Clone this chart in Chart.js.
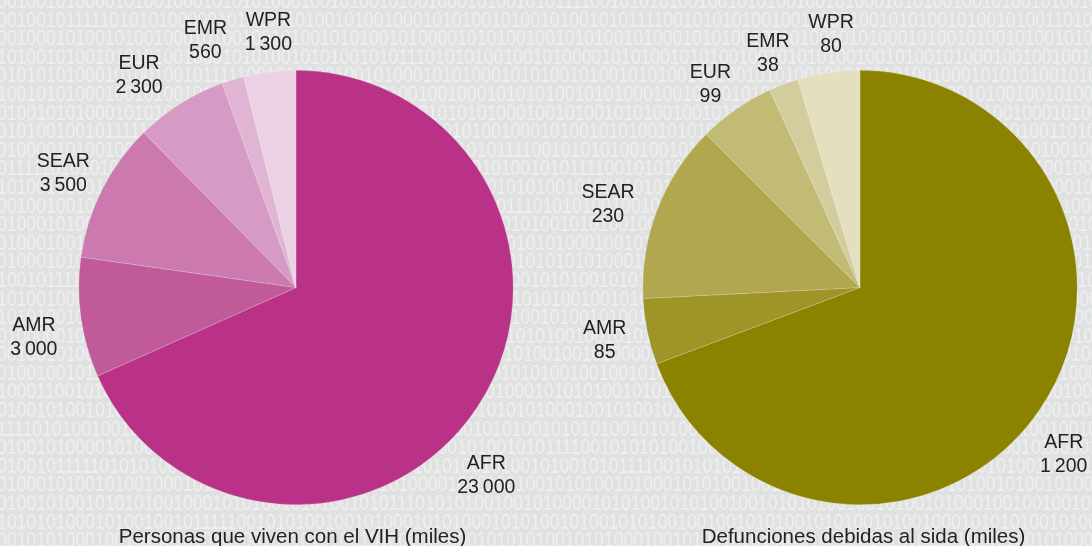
<!DOCTYPE html>
<html><head><meta charset="utf-8">
<script src="https://cdn.jsdelivr.net/npm/chart.js@4/dist/chart.umd.min.js"></script>
<style>
html,body{margin:0;padding:0;background:#e1e2e2;}
#wrap{position:relative;width:1092px;height:546px;overflow:hidden;background:#e0e1e1;}
#bin{position:absolute;left:-3px;top:-8px;font:22px "Liberation Sans",Arial,sans-serif;line-height:18.6px;color:#eeefef;white-space:pre;transform:scaleX(0.8);transform-origin:0 0;}
canvas{position:absolute;left:0;top:0;}
</style></head><body>
<div id="wrap"><div id="bin"></div><canvas id="c1" width="1092" height="546"></canvas><canvas id="c2" width="1092" height="546"></canvas></div>
<script>
// ---- data ----
const regions = ['AFR', 'AMR', 'SEAR', 'EUR', 'EMR', 'WPR'];
const hivValues = [23000, 3000, 3500, 2300, 560, 1300];          // Personas que viven con el VIH (miles)
const aidsDeathValues = [1200, 85, 230, 99, 38, 80];            // Defunciones debidas al sida (miles)
const chartTitles = ['Personas que viven con el VIH (miles)', 'Defunciones debidas al sida (miles)'];

// ---- style ----
const hivColors = ['#b93287', '#c15a98', '#cb79ae', '#d69ac4', '#dfb5d3', '#ecd1e5'];
const deathColors = ['#8b8200', '#9e9428', '#b0a74e', '#c2bb75', '#d3cd9d', '#e3dfbf'];
// label placement tweaks: [angle offset in degrees, radius factor]
const hivLabelPos = [[11.5, 1.228], [-2.6, 1.228], [-0.5, 1.195], [-4.2, 1.218], [-3.2, 1.214], [0.8, 1.186]];
const deathLabelPos = [[4.4, 1.209], [0.2, 1.2], [-2.6, 1.223], [-1.5, 1.163], [-0.8, 1.163], [1.8, 1.177]];

// decorative binary background
const binRows = [
 '001001010000101001000101010100010010100101001000101001010111100101010100100101010010010100010101001001010010100101',
 '101010010010111110101010000010101001010010100100010101001010010100101011110010101010010010100100101010010100101001',
 '010010100000100010100101001000101001001010010101001010000101010010010101001010001010100100101001010100010100101001',
 '000100100100100101001010010101010010001010100101010010101110101010010010100001010100101010010010101010010010100101',
 '100010101010001010010010111110010101001001010001010100010101001010010101001001001010100101010010100100010101010010',
 '010100011001010100010010100101010100100101010010100100100010101010010101000100101001010100101001001010101001010010',
 '100100010100101001010100010101001010100101000101010010010101010100010010100101010010010100101010001010010100110101',
 '001010010010111110101001001010001010100101010100101001000101001010100101010100101010010101001001010010101010011010'
];
(function(){
  let s = [];
  for (let i = 0; i < 32; i++) {
    const r = binRows[i % binRows.length];
    const k = (i * 5) % 17;
    s.push(r.slice(k) + r.slice(0, k));
  }
  document.getElementById('bin').textContent = s.join('\n');
})();

const FONT = '"Liberation Sans", Arial, sans-serif';
function fmt(v) { return String(v).replace(/\B(?=(\d{3})+(?!\d))/g, '\u2009'); }

const labelPlugin = {
  id: 'sliceLabels',
  afterDatasetsDraw(chart, args, opts) {
    const ctx = chart.ctx;
    const meta = chart.getDatasetMeta(0);
    const data = chart.data.datasets[0].data;
    ctx.save();
    ctx.font = '19.5px ' + FONT;
    ctx.fillStyle = '#222222';
    ctx.textAlign = 'center';
    ctx.textBaseline = 'middle';
    let cx = 0;
    meta.data.forEach((arc, i) => {
      const p = arc.getProps(['x', 'y', 'startAngle', 'endAngle', 'outerRadius'], true);
      cx = p.x;
      const tw = opts.pos[i];
      const mid = (p.startAngle + p.endAngle) / 2 + tw[0] * Math.PI / 180;
      const r = p.outerRadius * tw[1];
      const x = p.x + Math.cos(mid) * r;
      const y = p.y + Math.sin(mid) * r;
      ctx.fillText(chart.data.labels[i], x, y - 11);
      ctx.fillText(fmt(data[i]), x, y + 13);
    });
    ctx.textBaseline = 'alphabetic';
    ctx.font = '20.5px ' + FONT;
    ctx.fillText(opts.title, cx + opts.titleDx, 543);
    ctx.restore();
  }
};

function makePie(id, values, colors, pos, title, titleDx, padding) {
  return new Chart(document.getElementById(id), {
    type: 'pie',
    data: {
      labels: regions,
      datasets: [{
        data: values,
        backgroundColor: colors,
        borderColor: 'rgba(255,255,255,0.3)',
        borderWidth: 0.6
      }]
    },
    options: {
      responsive: false,
      animation: false,
      events: [],
      layout: { padding: padding },
      plugins: {
        legend: { display: false },
        tooltip: { enabled: false },
        sliceLabels: { pos: pos, title: title, titleDx: titleDx }
      }
    },
    plugins: [labelPlugin]
  });
}

makePie('c1', hivValues, hivColors, hivLabelPos, chartTitles[0], -3.5,
  { left: 78, right: 578, top: 70, bottom: 41 });
makePie('c2', aidsDeathValues, deathColors, deathLabelPos, chartTitles[1], 3.5,
  { left: 642, right: 14, top: 70, bottom: 41 });
</script>
</body></html>
